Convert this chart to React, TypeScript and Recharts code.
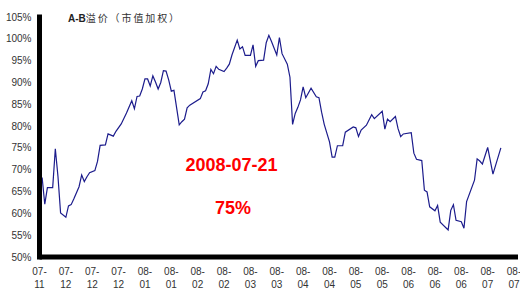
import { LineChart, Line, XAxis, YAxis } from 'recharts';

// trading-day index (10 days per axis label) and A-B premium in %
const days = [
  0, 1, 2, 3, 5, 6, 7, 8, 10, 11, 12, 13, 15, 16, 17, 18, 19, 21, 22, 23,
  25, 26, 28, 29, 31, 33, 35, 36, 37, 38, 39, 40, 41, 42, 43, 44, 45, 46, 47, 48,
  49, 50, 51, 53, 54, 55, 56, 57, 61, 62, 63, 64, 65, 66, 67, 68, 70, 71, 72, 73,
  75, 76, 77, 78, 80, 81, 82, 83, 85, 86, 87, 88, 90, 91, 92, 94, 95, 96, 97, 98,
  99, 100, 101, 103, 105, 106, 107, 108, 110, 111, 112, 113, 115, 116, 119, 120, 121, 122, 124, 126,
  127, 130, 131, 132, 133, 135, 136, 137, 138, 141, 142, 143, 145, 146, 147, 148, 150, 151, 152, 155,
  156, 157, 158, 160, 161, 162, 165, 166, 167, 168, 170, 172, 175,
];
const premium = [
  65.9, 68.2, 62.1, 65.9, 65.9, 74.8, 68.5, 60.1, 59.1, 61.7, 62.0, 63.3, 66.1, 68.8, 67.3, 68.4, 69.3, 69.8, 71.9, 75.6,
  75.7, 78.2, 77.7, 78.8, 80.5, 83.0, 85.8, 84.0, 86.8, 86.9, 88.5, 90.8, 90.8, 89.2, 91.5, 90.1, 88.5, 90.0, 92.7, 92.6,
  90.6, 88.0, 88.2, 80.3, 81.0, 81.6, 84.2, 84.8, 86.3, 87.8, 88.1, 89.7, 93.0, 92.0, 93.7, 93.0, 92.5, 93.3, 94.2, 96.3,
  99.7, 97.7, 98.2, 96.2, 96.2, 98.6, 93.7, 95.0, 95.1, 99.1, 100.8, 99.4, 96.3, 100.3, 96.6, 94.2, 91.2, 80.4, 82.9, 84.3,
  86.0, 89.0, 86.5, 88.7, 86.7, 86.5, 83.2, 80.4, 76.4, 72.9, 72.9, 75.5, 75.5, 78.6, 79.8, 79.6, 77.6, 79.1, 80.2, 82.6,
  81.7, 83.4, 79.3, 81.6, 81.0, 82.2, 79.4, 77.6, 78.2, 78.5, 73.8, 72.4, 72.1, 65.3, 64.9, 61.5, 60.6, 61.8, 58.0, 56.2,
  60.7, 62.0, 58.4, 58.1, 56.6, 62.7, 67.6, 72.5, 72.0, 71.3, 75.1, 69.0, 75.0,
];

const xTickLabels = [
  '07-11', '07-12', '07-12', '07-12', '08-01', '08-01', '08-02', '08-02', '08-03', '08-03',
  '08-04', '08-04', '08-05', '08-05', '08-06', '08-06', '08-06', '08-07', '08-07',
];
const yTicks = [50, 55, 60, 65, 70, 75, 80, 85, 90, 95, 100, 105];

const data = days.map((d, i) => ({ day: d, premium: premium[i] }));
const xTicks = xTickLabels.map((_, i) => i * 10);

const font = 'Arial, "Liberation Sans", "Noto Sans CJK SC", sans-serif';

function XTick({ x, y, payload }: any) {
  const label = xTickLabels[Math.round(payload.value / 10)] ?? '';
  const [a, b] = label.split('-');
  return (
    <text x={x} y={y} textAnchor="middle" fill="#333" fontSize={10} fontFamily={font}>
      <tspan x={x} dy={10}>{a}-</tspan>
      <tspan x={x} dy={12.5}>{b}</tspan>
    </text>
  );
}

export default function App() {
  return (
    <div style={{ position: 'absolute', left: 0, top: 0, width: 520, height: 289, background: '#fff', fontFamily: font }}>
      <LineChart width={520} height={289} data={data} margin={{ top: 17, right: 2, bottom: 0, left: 0 }}>
        <XAxis
          type="number"
          dataKey="day"
          domain={[0, 181.5]}
          ticks={xTicks}
          interval={0}
          tick={<XTick />}
          tickLine={false}
          height={32}
          axisLine={{ stroke: '#000', strokeWidth: 5 }}
        />
        <YAxis
          domain={[50, 105]}
          ticks={yTicks}
          interval={0}
          width={39.5}
          tickLine={false}
          tickFormatter={(v) => `${v}%`}
          tick={{ fill: '#333', fontSize: 10, fontFamily: font }}
          axisLine={{ stroke: '#000', strokeWidth: 5, strokeLinecap: 'square' }}
        />
        <Line
          type="linear"
          dataKey="premium"
          stroke="#1c1c8c"
          strokeWidth={1.2}
          dot={false}
          isAnimationActive={false}
        />
      </LineChart>
      <svg width={520} height={289} style={{ position: 'absolute', left: 0, top: 0, pointerEvents: 'none' }}>
        <text x={68} y={22} fontSize={10} fontFamily={font} fill="#222">
          <tspan fontWeight="bold">A-B</tspan>
          <tspan letterSpacing={1.9} fill="#333">溢价（市值加权）</tspan>
        </text>
        <text x={231.5} y={171} textAnchor="middle" fontSize={18} fontWeight="bold" fill="#ff0000" fontFamily={font}>
          2008-07-21
        </text>
        <text x={233} y={213.5} textAnchor="middle" fontSize={18} fontWeight="bold" fill="#ff0000" fontFamily={font}>
          75%
        </text>
      </svg>
    </div>
  );
}
